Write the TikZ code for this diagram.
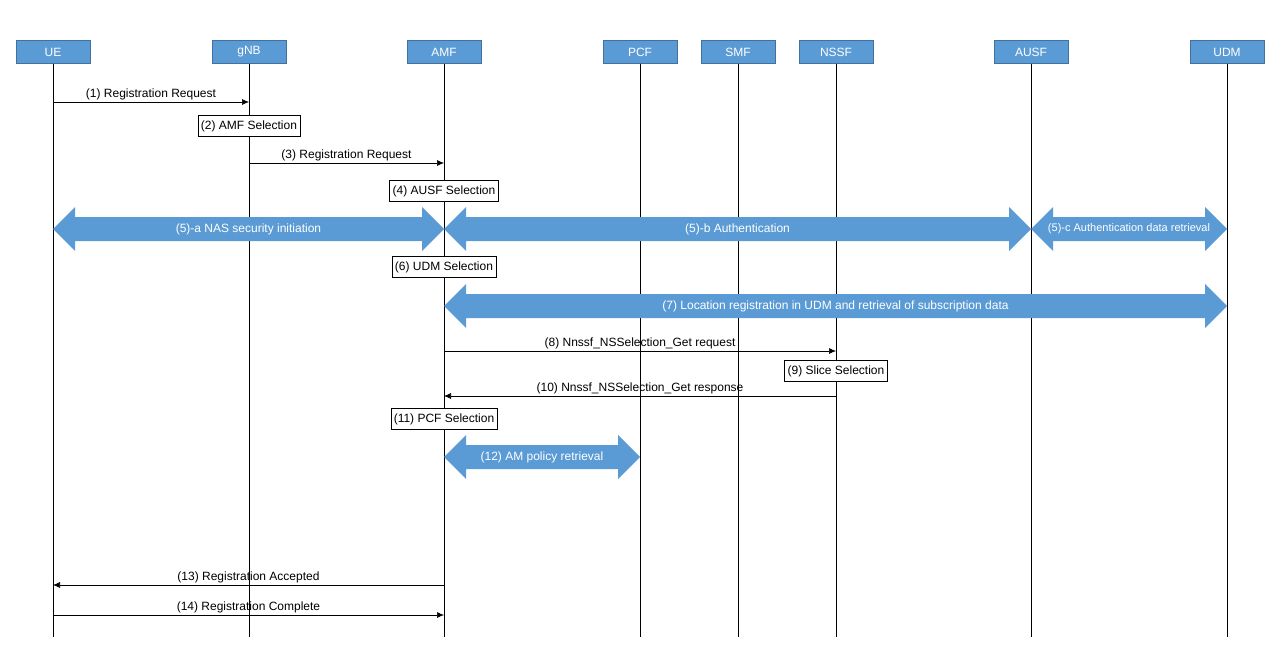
\documentclass[tikz,border=0pt]{standalone}
\usepackage{fontspec}
\setmainfont{Liberation Sans}
\usetikzlibrary{arrows.meta}
\definecolor{blu}{HTML}{5B9BD5}
\definecolor{bld}{HTML}{41719C}
\begin{document}
\begin{tikzpicture}[x=1pt,y=-1pt,font=\fontsize{12}{14}\selectfont,
 hdr/.style={fill=blu,draw=bld,text=white,minimum width=74pt,minimum height=23pt,inner sep=0pt},
 box/.style={draw=black,fill=white,inner sep=3pt,minimum height=21pt},
 msg/.style={-{Latex[length=7pt,width=6pt]},line width=0.6pt},
 lbl/.style={above,inner sep=2pt}]
\useasboundingbox (0,0) rectangle (1280,650);
\foreach \n/\x/\t in {ue/53/UE,gnb/249/gNB,amf/444/AMF,pcf/640/PCF,smf/738/SMF,nssf/836/NSSF,ausf/1031/AUSF,udm/1227/UDM}{
  \node[hdr] (\n) at (\x,52) {\t};
  \coordinate (\n e) at (\x,637);
  \draw[line width=0.6pt] (\n.south) -- (\n e);
}
\newcommand\dbl[5]{% x1 x2 y text name
  \fill[blu] (#1,#3) -- (#1+22,#3-22) -- (#1+22,#3-12) -- (#2-22,#3-12) -- (#2-22,#3-22) -- (#2,#3) -- (#2-22,#3+22) -- (#2-22,#3+12) -- (#1+22,#3+12) -- (#1+22,#3+22) -- cycle;
  \node[text=white] (#5) at ({(#1+#2)/2},#3) {#4};}
% messages
\coordinate (m1a) at (53,102); \coordinate (m1b) at (249,102);
\draw[msg] (m1a) -- node[lbl]{(1) Registration Request} (m1b);
\node[box] (b2) at (249,126) {(2) AMF Selection};
\coordinate (m3a) at (249,163); \coordinate (m3b) at (444,163);
\draw[msg] (m3a) -- node[lbl]{(3) Registration Request} (m3b);
\node[box] (b4) at (444,191) {(4) AUSF Selection};
\dbl{53}{444}{229}{(5)-a NAS security initiation}{a5}
\dbl{444}{1031}{229}{(5)-b Authentication}{b5}
\dbl{1031}{1227}{229}{\fontsize{11}{13}\selectfont(5)-c Authentication data retrieval}{c5}
\node[box] (b6) at (444,267) {(6) UDM Selection};
\dbl{444}{1227}{306}{(7) Location registration in UDM and retrieval of subscription data}{a7}
\coordinate (m8a) at (444,351); \coordinate (m8b) at (836,351);
\draw[msg] (m8a) -- node[lbl]{(8) Nnssf\_NSSelection\_Get request} (m8b);
\node[box] (b9) at (836,371) {(9) Slice Selection};
\coordinate (m10a) at (836,396); \coordinate (m10b) at (444,396);
\draw[msg] (m10a) -- node[lbl]{(10) Nnssf\_NSSelection\_Get response} (m10b);
\node[box] (b11) at (444,419) {(11) PCF Selection};
\dbl{444}{640}{457}{(12) AM policy retrieval}{a12}
\coordinate (m13a) at (444,585); \coordinate (m13b) at (53,585);
\draw[msg] (m13a) -- node[lbl]{(13) Registration Accepted} (m13b);
\coordinate (m14a) at (53,615); \coordinate (m14b) at (444,615);
\draw[msg] (m14a) -- node[lbl]{(14) Registration Complete} (m14b);
\end{tikzpicture}
\end{document}
